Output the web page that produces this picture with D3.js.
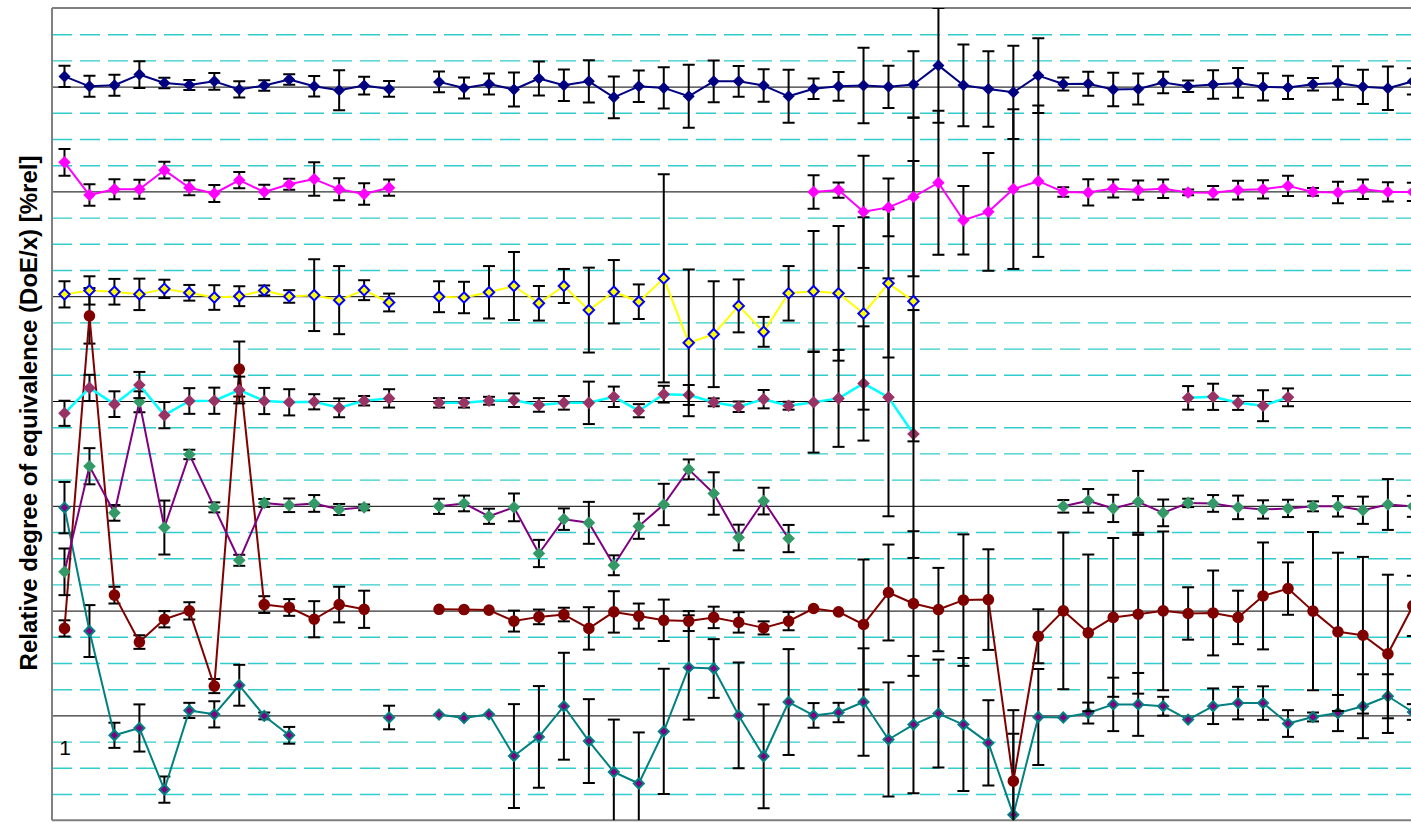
<!DOCTYPE html>
<html><head><meta charset="utf-8">
<script src="https://cdn.jsdelivr.net/npm/d3@7"></script>
<style>html,body{margin:0;padding:0;background:#fff;overflow:hidden}</style>
</head><body><svg id="c" width="1411" height="822"></svg>
<script>
// ---- data (deviation from each series' baseline, in grid units) ----
const categories = d3.range(1, 56);
const baselines = [4, 8, 12, 16, 20, 24, 28];
const gridMinor = d3.range(1, 31).filter(v => v % 4 !== 0);
const gridMajor = d3.range(4, 31, 4);
const axisLabel = "Relative degree of equivalence (DoE/x) [%rel]";
const seriesLabel = "1";
const N = null;

const tealDev = [7.93,3.22,-0.76,-0.48,-2.83,0.19,0.04,1.15,-0.02,-0.76, N,N,N,-0.08,N,0.03,-0.10,0.04,-1.55,-0.82, 0.35,-0.98,-2.16,-2.60,-0.61,1.83,1.79,0.00,-1.56,0.51, 0.00,0.11,0.51,-0.92,-0.35,0.07,-0.35,-1.05,-3.79,-0.06, -0.08,0.09,0.42,0.42,0.35,-0.16,0.35,0.47,0.47,-0.31, -0.06,0.09,0.35,0.73,0.13];
const tealErr = [0.98,0.99,0.48,0.90,0.50,0.29,0.50,0.78,0.13,0.32, N,N,N,0.45,N,0,0,0,1.98,1.94, 2.04,1.60,2.00,1.95,2.39,1.99,1.12,2.02,1.98,2.02, 0.47,0.37,2.05,2.18,2.62,2.06,2.54,1.63,3.09,1.83, 0,0.40,1.02,1.20,0.36,0,0.68,0.62,0.64,0.51, 0.17,0.69,1.22,0.84,0.30];

const darkredDev = [-0.68,11.25,0.59,-1.20,-0.33,-0.01,-2.88,9.22,0.23,0.12, -0.33,0.23,0.05,N,N,0.05,0.04,0.02,-0.40,-0.24, -0.15,-0.68,-0.05,-0.21,-0.37,-0.40,-0.26,-0.45,-0.66,-0.40, 0.08,-0.05,-0.53,0.69,0.27,0.04,0.40,0.42,-6.51,-0.98, -0.01,-0.85,-0.26,-0.14,-0.01,-0.11,-0.09,-0.26,0.56,0.84, -0.02,-0.81,-0.94,-1.65,0.18];
const darkredErr = [0.31,1.06,0.32,0.26,0.31,0.33,0.27,1.05,0.32,0.32, 0.69,0.68,0.71,N,N,0,0,0,0.40,0.28, 0.26,0.81,0.79,0.48,0.79,0.38,0.41,0.39,0.25,0.35, 0,0,2.48,1.83,2.76,1.59,2.51,1.92,2.71,1.03, 2.99,2.99,3.03,3.03,3.03,1.00,1.62,1.02,2.04,1.00, 3.02,3.02,2.99,3.02,1.15];

const greenDev = [-2.52,1.51,-0.27,3.97,-0.83,1.96,-0.06,-2.08,0.11,0.02, 0.09,-0.14,-0.06,N,N,-0.02,0.09,-0.40,-0.06,-1.82, -0.51,-0.65,-2.27,-0.78,0.05,1.39,0.47,-1.21,0.18,-1.25, N,N,N,N,N,N,N,N,N,N, -0.02,0.19,-0.10,0.15,-0.27,0.11,0.09,-0.06,-0.14,-0.10, -0.02,-0.02,-0.17,0.05,-0.02];
const greenErr = [0.89,0.69,0.30,0.40,1.03,0.18,0.19,0.21,0.15,0.26, 0.32,0.21,0.11,N,N,0.29,0.30,0.29,0.53,0.52, 0.41,0.80,0.38,0.48,0.79,0.38,0.81,0.49,0.51,0.52, N,N,N,N,N,N,N,N,N,N, 0.24,0.45,0.52,1.18,0.51,0.16,0.32,0.45,0.35,0.33, 0.19,0.39,0.52,0.97,0.40];

const maroonDev = [-0.47,0.50,-0.12,0.61,-0.54,0.00,0.01,0.42,0.00,-0.05, -0.03,-0.26,0.01,0.10,N,-0.07,-0.07,0.01,0.03,-0.15, -0.07,-0.07,0.16,-0.37,0.26,0.23,-0.05,-0.22,0.07,-0.18, -0.05,0.10,0.67,0.14,-1.26,N,N,N,N,N, N,N,N,N,N,0.12,0.16,-0.07,-0.18,0.14, N,N,N,N,N];
const maroonErr = [0.48,0.50,0.49,0.50,0.50,0.49,0.50,0.51,0.50,0.50, 0.29,0.36,0.18,0.35,N,0.18,0.18,0.15,0.26,0.26, 0.26,0.81,0.39,0.25,0.32,0.38,0.15,0.20,0.35,0.15, 1.92,1.85,2.18,4.54,4.73,N,N,N,N,N, N,N,N,N,N,0.45,0.50,0.27,0.59,0.34, N,N,N,N,N];

const yellowDev = [0.07,0.22,0.17,0.07,0.28,0.13,-0.05,0.00,0.22,-0.01, 0.04,-0.15,0.23,-0.24,N,-0.02,-0.05,0.15,0.39,-0.27, 0.39,-0.53,0.17,-0.21,0.68,-1.78,-1.45,-0.37,-1.36,0.11, 0.19,0.11,-0.66,0.49,-0.19,N,N,N,N,N, N,N,N,N,N,N,N,N,N,N, N,N,N,N,N];
const yellowErr = [0.50,0.54,0.49,0.60,0.35,0.30,0.47,0.38,0.19,0.24, 1.37,1.30,0.38,0.34,N,0.59,0.60,1.00,1.30,0.66, 0.65,1.62,1.21,0.66,3.97,2.80,2.02,1.01,0.57,1.04, 2.30,2.57,3.67,2.83,5.35,N,N,N,N,N, N,N,N,N,N,N,N,N,N,N, N,N,N,N,N];

const magentaDev = [1.11,-0.14,0.08,0.08,0.81,0.14,-0.08,0.43,-0.02,0.27, 0.47,0.08,-0.10,0.14,N,N,N,N,N,N, N,N,N,N,N,N,N,N,N,N, -0.02,0.05,-0.78,-0.61,-0.21,0.33,-1.10,-0.78,0.09,0.39, -0.02,-0.04,0.11,0.05,0.10,-0.04,-0.05,0.05,0.08,0.21, -0.02,-0.04,0.08,-0.02,-0.02];
const magentaErr = [0.51,0.41,0.38,0.36,0.32,0.29,0.32,0.31,0.27,0.21, 0.64,0.42,0.41,0.31,N,N,N,N,N,N, N,N,N,N,N,N,N,N,N,N, 0.64,0.29,2.14,1.10,3.03,2.75,1.31,2.25,3.05,2.89, 0.18,0.50,0.34,0.37,0.35,0.11,0.26,0.36,0.35,0.39, 0.15,0.41,0.37,0.37,0.35];

const navyDev = [0.39,0.01,0.05,0.46,0.14,0.06,0.20,-0.11,0.04,0.27, 0.01,-0.14,0.04,-0.09,N,0.18,-0.05,0.10,-0.11,0.31, 0.05,0.20,-0.41,0.01,-0.05,-0.37,0.20,0.20,0.04,-0.37, -0.08,0.01,0.04,-0.01,0.08,0.81,0.05,-0.09,-0.22,0.42, 0.10,0.11,-0.11,-0.09,0.16,0.01,0.08,0.14,-0.01,-0.03, 0.09,0.14,-0.01,-0.06,0.20];
const navyErr = [0.41,0.40,0.40,0.51,0.20,0.19,0.32,0.31,0.20,0.20, 0.39,0.76,0.34,0.30,N,0.40,0.40,0.40,0.65,0.65, 0.60,0.81,0.80,0.60,0.79,1.20,0.80,0.59,0.62,1.01, 0.39,0.55,1.44,0.81,1.27,2.19,1.56,1.44,1.78,1.43, 0.25,0.46,0.64,0.59,0.41,0.22,0.54,0.57,0.52,0.44, 0.24,0.64,0.65,0.83,0.50];

// ---- series styling (drawn in this order) ----
const series = [
  {dev: tealDev,    err: tealErr,    base: baselines[0], line: "#008080", lw: 2,   shape: "diamond", fill: "#800080", stroke: "#008080", sw: 2, size: 5},
  {dev: darkredDev, err: darkredErr, base: baselines[1], line: "#800000", lw: 2,   shape: "circle",  fill: "#800000", stroke: "#800000", sw: 0, size: 5.8},
  {dev: greenDev,   err: greenErr,   base: baselines[2], line: "#800080", lw: 2,   shape: "diamond", fill: "#339966", stroke: "none",    sw: 0, size: 6.3},
  {dev: maroonDev,  err: maroonErr,  base: baselines[3], line: "#00FFFF", lw: 2.5, shape: "diamond", fill: "#993366", stroke: "none",    sw: 0, size: 6.3},
  {dev: yellowDev,  err: yellowErr,  base: baselines[4], line: "#FFFF00", lw: 2,   shape: "diamond", fill: "#FFFF00", stroke: "#0000FF", sw: 2, size: 5.2},
  {dev: magentaDev, err: magentaErr, base: baselines[5], line: "#FF00FF", lw: 2,   shape: "diamond", fill: "#FF00FF", stroke: "none",    sw: 0, size: 6.2},
  {dev: navyDev,    err: navyErr,    base: baselines[6], line: "#000080", lw: 2,   shape: "diamond", fill: "#000080", stroke: "none",    sw: 0, size: 6}
];

// ---- layout ----
const W = 1411, H = 822;
const plotL = 52, plotT = 8, plotB = 820.2, plotR = 1440;
const step = 24.97;

const svg = d3.select("#c");
const x = d3.scaleBand().domain(categories).range([plotL, plotL + categories.length * step]).padding(0);
const cx = c => x(c) + x.bandwidth() / 2;
const y = d3.scaleLinear().domain([0, 31]).range([plotB, plotT]);

svg.append("defs").append("clipPath").attr("id", "clip")
  .append("rect").attr("x", plotL).attr("y", plotT).attr("width", plotR - plotL).attr("height", plotB - plotT);

// gridlines
const gMinor = svg.append("g").attr("transform", `translate(${plotL},0)`)
  .call(d3.axisLeft(y).tickValues(gridMinor).tickSize(-(plotR - plotL)).tickFormat(""));
gMinor.select(".domain").remove();
gMinor.selectAll(".tick line").attr("stroke", "#33CCCC").attr("stroke-width", 1.4).attr("stroke-dasharray", "20,8");

const gMajor = svg.append("g").attr("transform", `translate(${plotL},0)`)
  .call(d3.axisLeft(y).tickValues(gridMajor).tickSize(-(plotR - plotL)).tickFormat(""));
gMajor.select(".domain").remove();
gMajor.selectAll(".tick line").attr("stroke", "#000").attr("stroke-width", 1);

// plot frame
svg.append("line").attr("x1", plotL).attr("x2", plotR).attr("y1", plotT).attr("y2", plotT).attr("stroke", "#808080").attr("stroke-width", 2);
svg.append("line").attr("x1", plotL).attr("x2", plotR).attr("y1", plotB).attr("y2", plotB).attr("stroke", "#808080").attr("stroke-width", 2);
svg.append("line").attr("x1", plotL).attr("x2", plotL).attr("y1", plotT).attr("y2", plotB).attr("stroke", "#808080").attr("stroke-width", 2);

const plot = svg.append("g").attr("clip-path", "url(#clip)");

const diamond = s => `M0,${-s}L${s},0L0,${s}L${-s},0Z`;

series.forEach(s => {
  const pts = categories.map((c, i) => ({c, v: s.dev[i] == null ? null : s.base + s.dev[i], e: s.err[i]}));
  const valid = pts.filter(p => p.v != null);
  const g = plot.append("g");

  // error bars
  const eb = g.append("g").attr("stroke", "#000").attr("stroke-width", 2);
  valid.filter(p => p.e > 0).forEach(p => {
    const X = cx(p.c), y1 = y(p.v + p.e), y2 = y(p.v - p.e);
    eb.append("line").attr("x1", X).attr("x2", X).attr("y1", y1).attr("y2", y2);
    eb.append("line").attr("x1", X - 6).attr("x2", X + 6).attr("y1", y1).attr("y2", y1);
    eb.append("line").attr("x1", X - 6).attr("x2", X + 6).attr("y1", y2).attr("y2", y2);
  });

  // line
  const line = d3.line().defined(p => p.v != null).x(p => cx(p.c)).y(p => y(p.v));
  g.append("path").datum(pts).attr("d", line).attr("fill", "none")
    .attr("stroke", s.line).attr("stroke-width", s.lw).attr("stroke-linejoin", "round");

  // markers
  g.selectAll(".m").data(valid).join("path")
    .attr("transform", p => `translate(${cx(p.c)},${y(p.v)})`)
    .attr("d", s.shape === "circle" ? d3.symbol(d3.symbolCircle, Math.PI * s.size * s.size)() : diamond(s.size))
    .attr("fill", s.fill).attr("stroke", s.stroke).attr("stroke-width", s.sw);
});

// texts
svg.append("text").attr("transform", `translate(28,413) rotate(-90)`)
  .attr("text-anchor", "middle").attr("dominant-baseline", "central")
  .attr("font-family", "Liberation Sans, Arial, sans-serif").attr("font-weight", "bold").attr("font-size", 24)
  .attr("fill", "#000").text(axisLabel);

svg.append("text").attr("x", 65).attr("y", 755).attr("text-anchor", "middle")
  .attr("font-family", "Liberation Sans, Arial, sans-serif").attr("font-size", 21)
  .attr("fill", "#000").text(seriesLabel);
</script>
</body></html>
